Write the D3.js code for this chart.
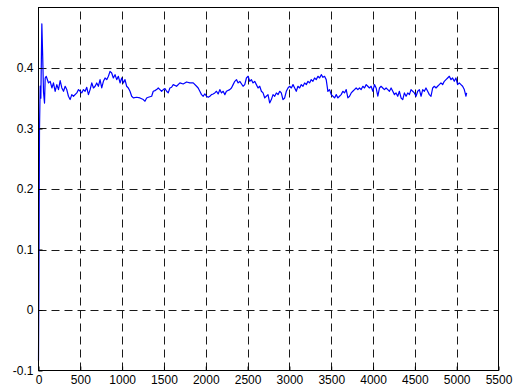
<!DOCTYPE html>
<html>
<head>
<meta charset="utf-8">
<script src="https://cdn.jsdelivr.net/npm/d3@7"></script>
<style>
  html, body { margin: 0; padding: 0; background: #ffffff; }
  svg { display: block; }
  text { font-family: "Liberation Sans", Arial, Helvetica, sans-serif; font-size: 12px; fill: #000; }
</style>
</head>
<body>
<svg id="chart" width="518" height="389"></svg>
<script>
// ---- data ----
const xTicks = [0, 500, 1000, 1500, 2000, 2500, 3000, 3500, 4000, 4500, 5000, 5500];
const yTicks = [-0.1, 0, 0.1, 0.2, 0.3, 0.4];
const yTickLabels = ["-0.1", "0", "0.1", "0.2", "0.3", "0.4"];

const sampleX = [
  0, 5, 12, 20, 28, 40, 50, 60, 72, 80, 92, 120, 140, 160, 179, 199, 219, 239, 259, 279,
  299, 319, 338, 358, 378, 398, 418, 458, 478, 498, 517, 537, 557, 577, 597, 617, 637, 657,
  677, 696, 716, 736, 756, 776, 796, 816, 836, 855, 875, 895, 915, 935, 955, 975, 995, 1015,
  1034, 1054, 1074, 1094, 1114, 1134, 1174, 1213, 1253, 1273, 1293, 1313, 1353, 1372, 1392,
  1412, 1432, 1452, 1472, 1492, 1512, 1532, 1551, 1571, 1591, 1611, 1651, 1691, 1730, 1770,
  1810, 1850, 1890, 1909, 1929, 1949, 1969, 1989, 2009, 2029, 2049, 2068, 2088, 2108, 2128,
  2148, 2168, 2188, 2208, 2228, 2247, 2287, 2307, 2327, 2347, 2367, 2387, 2407, 2446, 2466,
  2486, 2506, 2526, 2545, 2565, 2585, 2605, 2625, 2645, 2665, 2685, 2705, 2724, 2744, 2764,
  2784, 2804, 2824, 2844, 2864, 2884, 2903, 2923, 2943, 2963, 2983, 3003, 3023, 3043, 3063,
  3082, 3102, 3122, 3142, 3162, 3182, 3202, 3222, 3241, 3261, 3281, 3301, 3321, 3341, 3361,
  3381, 3401, 3420, 3440, 3460, 3480, 3500, 3520, 3540, 3560, 3580, 3599, 3619, 3639, 3659,
  3679, 3699, 3719, 3739, 3758, 3778, 3798, 3818, 3838, 3858, 3878, 3898, 3918, 3937, 3957,
  3977, 3997, 4017, 4037, 4057, 4077, 4096, 4116, 4136, 4156, 4176, 4196, 4216, 4236, 4256,
  4275, 4295, 4315, 4335, 4355, 4375, 4395, 4415, 4435, 4454, 4474, 4494, 4514, 4534, 4554,
  4574, 4594, 4613, 4633, 4653, 4673, 4693, 4713, 4733, 4753, 4772, 4792, 4812, 4832, 4852,
  4872, 4892, 4912, 4932, 4951, 4971, 4991, 5011, 5031, 5051, 5071, 5091, 5111, 5119
];
const sampleY = [
  -0.084, 0.05, 0.30, 0.37, 0.35, 0.473, 0.42, 0.36, 0.342, 0.3835, 0.3863, 0.3753, 0.3780, 0.3670, 0.3753, 0.3615, 0.3725, 0.3643, 0.3791, 0.3670,
  0.3615, 0.3698, 0.3643, 0.3533, 0.3478, 0.3560, 0.3533, 0.3588, 0.3643, 0.3615, 0.3588, 0.3643, 0.3615, 0.3681, 0.3560, 0.3643, 0.3753, 0.3670,
  0.3698, 0.3753, 0.3698, 0.3808, 0.3670, 0.3780, 0.3835, 0.3808, 0.3863, 0.3945, 0.3918, 0.3835, 0.3890, 0.3808, 0.3863, 0.3753, 0.3835, 0.3753,
  0.3808, 0.3698, 0.3670, 0.3615, 0.3533, 0.3505, 0.3516, 0.3505, 0.3478, 0.3451, 0.3505, 0.3516, 0.3533, 0.3615, 0.3626,
  0.3643, 0.3670, 0.3643, 0.3615, 0.3643, 0.3659, 0.3615, 0.3588, 0.3670, 0.3681, 0.3725, 0.3698, 0.3753, 0.3736, 0.3769,
  0.3753, 0.3753, 0.3698, 0.3670, 0.3615, 0.3560, 0.3533, 0.3571, 0.3533, 0.3516, 0.3533, 0.3560, 0.3571, 0.3588, 0.3615,
  0.3571, 0.3643, 0.3588, 0.3615, 0.3560, 0.3615, 0.3643, 0.3670, 0.3725, 0.3780, 0.3808, 0.3753, 0.3780, 0.3698, 0.3725,
  0.3835, 0.3863, 0.3780, 0.3808, 0.3753, 0.3780, 0.3725, 0.3670, 0.3698, 0.3615, 0.3588, 0.3505, 0.3533, 0.3560, 0.3423,
  0.3478, 0.3560, 0.3533, 0.3588, 0.3560, 0.3615, 0.3588, 0.3478, 0.3505, 0.3615, 0.3670, 0.3698, 0.3670, 0.3725, 0.3670,
  0.3615, 0.3698, 0.3670, 0.3725, 0.3698, 0.3753, 0.3725, 0.3780, 0.3753, 0.3808, 0.3780, 0.3835, 0.3808, 0.3863, 0.3835,
  0.3890, 0.3846, 0.3863, 0.3808, 0.3615, 0.3643, 0.3560, 0.3533, 0.3505, 0.3560, 0.3505, 0.3533, 0.3560, 0.3615, 0.3588,
  0.3643, 0.3505, 0.3533, 0.3588, 0.3615, 0.3643, 0.3670, 0.3643, 0.3670, 0.3643, 0.3698, 0.3670, 0.3725, 0.3698, 0.3670,
  0.3698, 0.3615, 0.3725, 0.3670, 0.3533, 0.3670, 0.3698, 0.3670, 0.3643, 0.3670, 0.3643, 0.3615, 0.3670, 0.3615, 0.3560,
  0.3588, 0.3533, 0.3615, 0.3505, 0.3478, 0.3588, 0.3533, 0.3588, 0.3560, 0.3643, 0.3615, 0.3588, 0.3533, 0.3615, 0.3643,
  0.3533, 0.3643, 0.3615, 0.3670, 0.3615, 0.3560, 0.3533, 0.3670, 0.3698, 0.3670, 0.3698, 0.3725, 0.3753, 0.3725, 0.3780,
  0.3808, 0.3835, 0.3863, 0.3808, 0.3835, 0.3780, 0.3835, 0.3725, 0.3753, 0.3725, 0.3698, 0.3643, 0.3533, 0.3588
];

// ---- layout ----
const svg = d3.select("#chart");
const mLeft = 38.5, mRight = 498.5, mTop = 7.5, mBottom = 370.5;

const x = d3.scaleLinear().domain([0, 5500]).range([mLeft, mRight]);
const y = d3.scaleLinear().domain([-0.1, 0.5]).range([mBottom, mTop]);

// white plot area
svg.append("rect").attr("x", mLeft).attr("y", mTop)
  .attr("width", mRight - mLeft).attr("height", mBottom - mTop).attr("fill", "#fff");

// grid lines (dashed)
const grid = svg.append("g").attr("stroke", "#1a1a1a").attr("stroke-width", 1)
  .attr("stroke-dasharray", "8,5").attr("fill", "none");
xTicks.filter(t => t > 0 && t < 5500).forEach(t => {
  const px = Math.round(x(t)) + 0.5;
  grid.append("line").attr("x1", px).attr("x2", px).attr("y1", mBottom).attr("y2", mTop);
});
yTicks.filter(t => t > -0.1).forEach(t => {
  const py = Math.round(y(t)) + 0.5;
  grid.append("line").attr("x1", mLeft).attr("x2", mRight).attr("y1", py).attr("y2", py);
});

// data line
const pts = sampleX.map((d, i) => [d, sampleY[i]]);
svg.append("path").datum(pts)
  .attr("fill", "none").attr("stroke", "#0000ff").attr("stroke-width", 1.2)
  .attr("stroke-linejoin", "round")
  .attr("d", d3.line().x(d => x(d[0])).y(d => y(d[1])));

// axes (ticks inward)
const xAxis = d3.axisBottom(x).tickValues(xTicks).tickSizeInner(-4).tickSizeOuter(0)
  .tickPadding(5).tickFormat(d3.format("d"));
const gx = svg.append("g").attr("transform", `translate(0,${mBottom})`).call(xAxis);
gx.select(".domain").remove();
gx.selectAll("text").attr("font-size", 12).attr("font-family", "Liberation Sans, Arial, sans-serif").attr("fill", "#000");
gx.selectAll("line").attr("stroke", "#000");

const yAxis = d3.axisLeft(y).tickValues(yTicks).tickSizeInner(-4).tickSizeOuter(0)
  .tickPadding(5).tickFormat((d, i) => yTickLabels[i]);
const gy = svg.append("g").attr("transform", `translate(${mLeft},0)`).call(yAxis);
gy.select(".domain").remove();
gy.selectAll("text").attr("font-size", 12).attr("font-family", "Liberation Sans, Arial, sans-serif").attr("fill", "#000");
gy.selectAll("line").attr("stroke", "#000");

// box
svg.append("rect").attr("x", mLeft).attr("y", mTop)
  .attr("width", mRight - mLeft).attr("height", mBottom - mTop)
  .attr("fill", "none").attr("stroke", "#000").attr("stroke-width", 1);
</script>
</body>
</html>
